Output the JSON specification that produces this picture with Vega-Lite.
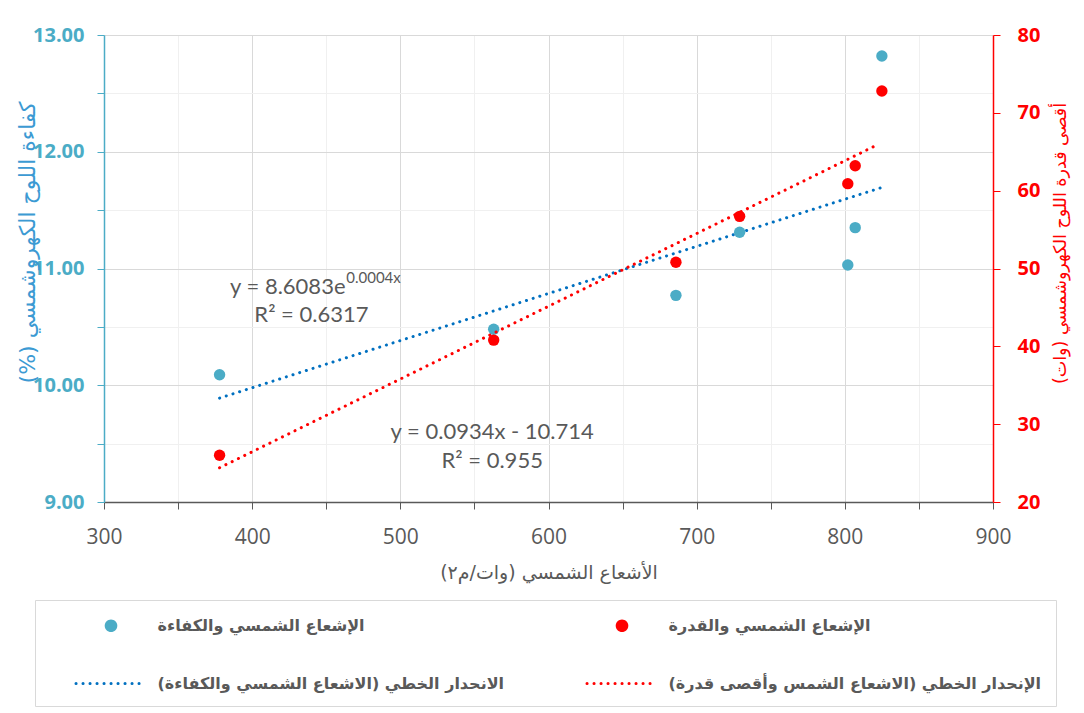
{
  "$schema": "https://vega.github.io/schema/vega-lite/v6.json",
  "width": 889,
  "height": 467,
  "autosize": {"type": "none"},
  "padding": {"left": 104, "top": 35, "right": 91, "bottom": 211},
  "background": "white",
  "config": {"view": {"stroke": null}},
  "datasets": {
    "eff_points": [
      {"irradiance": 378, "efficiency": 10.09, "series": "الإشعاع الشمسي والكفاءة"},
      {"irradiance": 563, "efficiency": 10.48, "series": "الإشعاع الشمسي والكفاءة"},
      {"irradiance": 686, "efficiency": 10.77, "series": "الإشعاع الشمسي والكفاءة"},
      {"irradiance": 729, "efficiency": 11.31, "series": "الإشعاع الشمسي والكفاءة"},
      {"irradiance": 802, "efficiency": 11.03, "series": "الإشعاع الشمسي والكفاءة"},
      {"irradiance": 807, "efficiency": 11.35, "series": "الإشعاع الشمسي والكفاءة"},
      {"irradiance": 825, "efficiency": 12.82, "series": "الإشعاع الشمسي والكفاءة"}
    ],
    "power_points": [
      {"irradiance": 378, "power": 26.0, "series": "الإشعاع الشمسي والقدرة"},
      {"irradiance": 563, "power": 40.8, "series": "الإشعاع الشمسي والقدرة"},
      {"irradiance": 686, "power": 50.8, "series": "الإشعاع الشمسي والقدرة"},
      {"irradiance": 729, "power": 56.7, "series": "الإشعاع الشمسي والقدرة"},
      {"irradiance": 802, "power": 60.9, "series": "الإشعاع الشمسي والقدرة"},
      {"irradiance": 807, "power": 63.2, "series": "الإشعاع الشمسي والقدرة"},
      {"irradiance": 825, "power": 72.8, "series": "الإشعاع الشمسي والقدرة"}
    ],
    "eff_line": [
      {"irradiance": 378, "efficiency": 9.89, "series": "الانحدار الخطي (الاشعاع الشمسي والكفاءة)\u200f"},
      {"irradiance": 824, "efficiency": 11.69, "series": "الانحدار الخطي (الاشعاع الشمسي والكفاءة)\u200f"}
    ],
    "power_line": [
      {"irradiance": 378, "power": 24.4, "series": "الإنحدار الخطي (الاشعاع الشمس وأقصى قدرة)\u200f"},
      {"irradiance": 822, "power": 65.9, "series": "الإنحدار الخطي (الاشعاع الشمس وأقصى قدرة)\u200f"}
    ]
  },
  "layer": [
    {
      "layer": [
        {
          "data": {"name": "eff_line"},
          "mark": {"type": "line", "strokeWidth": 3, "strokeDash": [0.1, 6.9], "strokeCap": "round"},
          "encoding": {
            "x": {
              "field": "irradiance",
              "type": "quantitative",
              "scale": {"domain": [300, 900], "nice": false, "zero": false},
              "axis": {
                "title": "الأشعاع الشمسي (وات/م٢)\u200f",
                "titleFont": "DejaVu Sans",
                "titleFontSize": 19,
                "titleFontWeight": "normal",
                "titleColor": "#595959",
                "titleY": 70,
                "titleBaseline": "middle",
                "values": [300,325,350,375,400,425,450,475,500,525,550,575,600,625,650,675,700,725,750,775,800,825,850,875,900],
                "labelExpr": "datum.value % 100 === 0 ? format(datum.value, 'd') : ''",
                "labelFont": "Open Sans",
                "labelFontSize": 21,
                "labelColor": "#595959",
                "labelPadding": 17,
                "labelOverlap": false,
                "labelFlush": false,
                "domainColor": "#595959",
                "domainWidth": 1.5,
                "tickColor": "#595959",
                "tickSize": 7,
                "grid": true,
                "gridColor": {"condition": {"test": "datum.value % 100 === 0", "value": "#D9D9D9"}, "value": "#F0F0F0"},
                "gridWidth": 1
              }
            },
            "y": {
              "field": "efficiency",
              "type": "quantitative",
              "scale": {"domain": [9, 13], "nice": false, "zero": false},
              "axis": {
                "orient": "left",
                "title": "كفاءة اللوح الكهروشمسي (%)\u200f",
                "titleFont": "DejaVu Sans",
                "titleFontSize": 22,
                "titleFontWeight": "normal",
                "titleColor": "#3C9AD3",
                "titleAngle": -90,
                "titleX": -77,
                "titleY": 207,
                "titleAlign": "center",
                "titleBaseline": "middle",
                "titleLimit": 600,
                "values": [9,9.25,9.5,9.75,10,10.25,10.5,10.75,11,11.25,11.5,11.75,12,12.25,12.5,12.75,13],
                "labelExpr": "datum.value % 1 === 0 ? format(datum.value, '.2f') : ''",
                "labelFont": "Open Sans",
                "labelFontSize": 20,
                "labelFontWeight": "bold",
                "labelColor": "#4BACC6",
                "labelPadding": 13,
                "labelOverlap": false,
                "labelFlush": false,
                "domainColor": "#4BACC6",
                "domainWidth": 1.5,
                "tickColor": "#4BACC6",
                "tickSize": 7,
                "grid": true,
                "gridColor": {"condition": {"test": "datum.value % 1 === 0", "value": "#D9D9D9"}, "value": "#F0F0F0"},
                "gridWidth": 1
              }
            },
            "color": {
              "field": "series", "type": "nominal",
              "scale": {
                "domain": ["الإشعاع الشمسي والكفاءة", "الانحدار الخطي (الاشعاع الشمسي والكفاءة)\u200f", "الإشعاع الشمسي والقدرة", "الإنحدار الخطي (الاشعاع الشمس وأقصى قدرة)\u200f"],
                "range": ["#4BACC6", "#0070C0", "#FF0000", "#FF0000"]
              },
              "legend": {
                "orient": "none",
                "legendX": -69,
                "legendY": 565,
                "direction": "vertical",
                "columns": 2,
                "columnPadding": 76,
                "rowPadding": 38,
                "padding": 14,
                "strokeColor": "#D9D9D9",
                "fillColor": "white",
                "title": " ",
                "titleOrient": "left",
                "titlePadding": 27,
                "titleFontSize": 11,
                "symbolSize": 400,
                "symbolOffset": 23.5,
                "symbolStrokeWidth": 3,
                "symbolDash": [0.1, 6.9],
                "labelFont": "DejaVu Sans",
                "labelFontSize": 16,
                "labelFontWeight": "bold",
                "labelColor": "#595959",
                "labelLimit": 600,
                "labelOffset": 35,
                "encode": {
                  "symbols": {
                    "update": {
                      "shape": {"signal": "indexof(datum.value, 'نحدار') >= 0 ? 'M-3.5,0L3.5,0' : 'M-0.63,0A0.63,0.63,0,1,1,0.63,0A0.63,0.63,0,1,1,-0.63,0Z'"},
                      "fill": {"signal": "indexof(datum.value, 'نحدار') >= 0 ? 'transparent' : scale('color', datum.value)"},
                      "stroke": {"signal": "scale('color', datum.value)"},
                      "strokeOpacity": {"signal": "indexof(datum.value, 'نحدار') >= 0 ? 1 : 0"},
                      "strokeCap": {"value": "round"},
                      "opacity": {"value": 1}
                    }
                  }
                }
              }
            }
          }
        },
        {
          "data": {"name": "eff_points"},
          "mark": {"type": "point", "filled": true, "size": 130, "opacity": 1},
          "encoding": {
            "x": {"field": "irradiance", "type": "quantitative"},
            "y": {"field": "efficiency", "type": "quantitative"},
            "color": {"field": "series", "type": "nominal"}
          }
        },
        {
          "data": {"values": [{"label": "y = 8.6083e"}]},
          "mark": {"type": "text", "align": "right", "baseline": "middle", "font": "Lato", "fontSize": 22, "color": "#595959"},
          "encoding": {"text": {"field": "label"}, "x": {"datum": 463}, "y": {"datum": 10.84}}
        },
        {
          "data": {"values": [{"label": "0.0004x"}]},
          "mark": {"type": "text", "align": "left", "baseline": "middle", "font": "Lato", "fontSize": 15, "color": "#595959"},
          "encoding": {"text": {"field": "label"}, "x": {"datum": 463.5}, "y": {"datum": 10.92}}
        },
        {
          "data": {"values": [{"label": "R² = 0.6317"}]},
          "mark": {"type": "text", "align": "center", "baseline": "middle", "font": "Lato", "fontSize": 22, "color": "#595959"},
          "encoding": {"text": {"field": "label"}, "x": {"datum": 440}, "y": {"datum": 10.6}}
        },
        {
          "data": {"values": [{"label": "y = 0.0934x - 10.714"}]},
          "mark": {"type": "text", "align": "center", "baseline": "middle", "font": "Lato", "fontSize": 22, "color": "#595959"},
          "encoding": {"text": {"field": "label"}, "x": {"datum": 562}, "y": {"datum": 9.6}}
        },
        {
          "data": {"values": [{"label": "R² = 0.955"}]},
          "mark": {"type": "text", "align": "center", "baseline": "middle", "font": "Lato", "fontSize": 22, "color": "#595959"},
          "encoding": {"text": {"field": "label"}, "x": {"datum": 562}, "y": {"datum": 9.35}}
        }
      ]
    },
    {
      "layer": [
        {
          "data": {"name": "power_line"},
          "mark": {"type": "line", "strokeWidth": 3, "strokeDash": [0.1, 6.9], "strokeCap": "round"},
          "encoding": {
            "x": {"field": "irradiance", "type": "quantitative"},
            "y": {
              "field": "power",
              "type": "quantitative",
              "scale": {"domain": [20, 80], "nice": false, "zero": false},
              "axis": {
                "orient": "right",
                "title": "أقصى قدرة اللوح الكهروشمسي (وات)\u200f",
                "titleFont": "DejaVu Sans",
                "titleFontSize": 17.5,
                "titleFontWeight": "normal",
                "titleColor": "#FF0000",
                "titleAngle": -90,
                "titleX": 67,
                "titleY": 208,
                "titleAlign": "center",
                "titleBaseline": "middle",
                "titleLimit": 600,
                "values": [20,25,30,35,40,45,50,55,60,65,70,75,80],
                "labelExpr": "datum.value % 10 === 0 ? format(datum.value, 'd') : ''",
                "labelFont": "Open Sans",
                "labelFontSize": 20,
                "labelFontWeight": "bold",
                "labelColor": "#FF0000",
                "labelPadding": 17,
                "labelOverlap": false,
                "labelFlush": false,
                "domainColor": "#FF0000",
                "domainWidth": 1.5,
                "tickColor": "#FF0000",
                "tickSize": 7,
                "grid": false
              }
            },
            "color": {"field": "series", "type": "nominal"}
          }
        },
        {
          "data": {"name": "power_points"},
          "mark": {"type": "point", "filled": true, "size": 130, "opacity": 1},
          "encoding": {
            "x": {"field": "irradiance", "type": "quantitative"},
            "y": {"field": "power", "type": "quantitative"},
            "color": {"field": "series", "type": "nominal"}
          }
        }
      ]
    }
  ],
  "resolve": {"scale": {"y": "independent"}}
}
